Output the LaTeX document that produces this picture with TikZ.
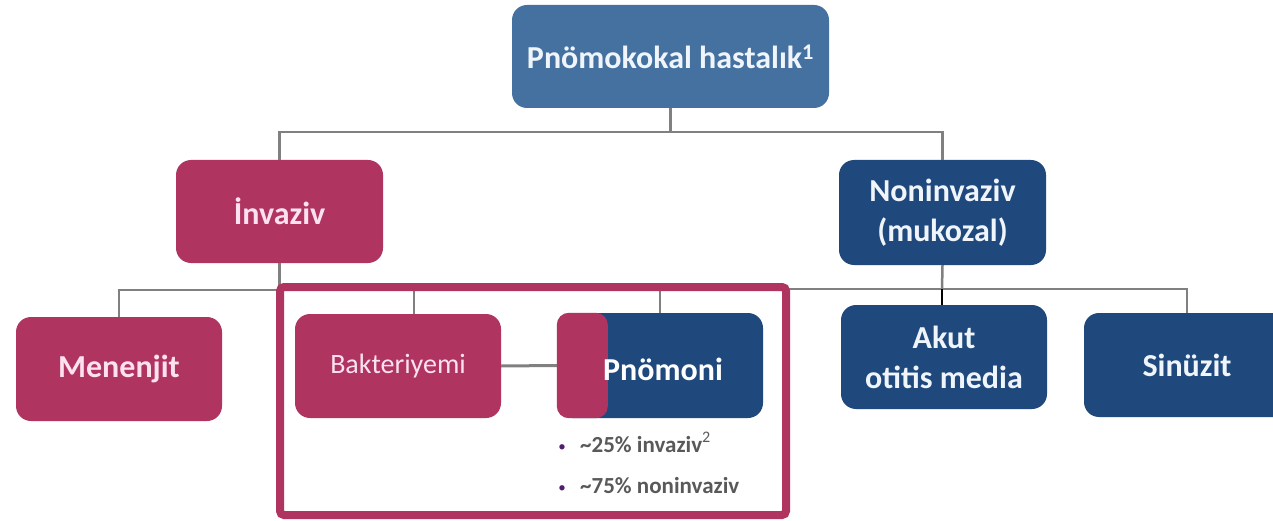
\documentclass[tikz,border=0pt]{standalone}
\usepackage{fontspec}
\setmainfont{Carlito}
\definecolor{topblue}{RGB}{69,113,161}
\definecolor{pinkbox}{RGB}{176,52,96}
\definecolor{navy}{RGB}{31,73,125}
\definecolor{pinktext}{RGB}{252,226,240}
\definecolor{bluetext}{RGB}{240,245,251}
\definecolor{lnk}{RGB}{128,128,128}
\definecolor{bultext}{RGB}{89,89,89}
\definecolor{buldot}{RGB}{80,30,110}
\tikzset{
  box/.style={rounded corners=15pt, minimum width=206pt, minimum height=104pt, inner sep=0pt, align=center, font=\fontsize{32}{40}\selectfont\bfseries},
  pbox/.style={box, fill=pinkbox, text=pinktext},
  nbox/.style={box, fill=navy, text=bluetext},
  conn/.style={draw=lnk, line width=2.5pt},
  bul/.style={anchor=base west, inner sep=0pt, text=bultext, font=\fontsize{23}{27}\selectfont\bfseries},
  dot/.style={anchor=base, inner sep=0pt, text=buldot, font=\fontsize{15}{17}\selectfont}
}
\begin{document}
\begin{tikzpicture}[x=1pt,y=-1pt]
\clip (0,0) rectangle (1273,521);
\fill[white] (0,0) rectangle (1273,521);
% nodes
\node[box, fill=topblue, text=bluetext, minimum width=317pt, minimum height=103pt] (top) at (670.5,56.5) {Pnömokokal hastalık\textsuperscript{1}};
\node[pbox, minimum width=207pt, minimum height=103pt] (inv) at (279.5,211.5) {İnvaziv};
\node[nbox, minimum width=207pt, minimum height=105pt] (non) at (942.5,212.5) {Noninvaziv\\(mukozal)};
% junction coordinates
\coordinate (ji) at (279.5,290);
\coordinate (jn) at (942,289);
% connectors (drawn before the lower boxes)
\draw[conn] (top.south) -- ++(0,24) -| (inv.north);
\draw[conn] (top.south) -- ++(0,24) -| (non.north);
\node[pbox] (men) at (119,369) {Menenjit};
\node[pbox, font=\fontsize{28}{33}\selectfont] (bak) at (398,366) {Bakteriyemi};
\node[nbox, minimum height=105pt] (pno) at (660,365.5) {};
\node[nbox] (akut) at (944,357) {Akut\\otitis media};
\node[nbox] (sin) at (1187,365) {Sinüzit};
\draw[conn] (inv.south) -- (ji);
\draw[conn] (ji) -| (men.north);
\draw[conn] (ji) -| ([xshift=16pt]bak.north);
\draw[conn] (non.south) -- (jn);
\draw[conn] (jn) -| (pno.north);
\draw[conn] (jn) -| (sin.north);
\draw[line width=2.5pt, black] (jn) -- (jn |- akut.north);
\draw[conn, line width=3pt] (bak.east) -- (pno.west);
% pink overlay on Pnömoni
\fill[pinkbox, rounded corners=12pt] (pno.north west) rectangle ([xshift=51pt]pno.south west);
\node[anchor=center, text=white, font=\fontsize{32}{40}\selectfont\bfseries] (pnot) at (663,369) {Pnömoni};
% highlight frame
\draw[pinkbox, line width=8pt, rounded corners=4pt] (280,287) rectangle (786,515);
% bullets
\node[dot] (d1) at (562,451) {•};
\node[bul] (b1) at (580,452) {\textasciitilde25\% invaziv\textsuperscript{\mdseries 2}};
\node[dot] (d2) at (562,492) {•};
\node[bul] (b2) at (580,493) {\textasciitilde75\% noninvaziv};
\end{tikzpicture}
\end{document}
